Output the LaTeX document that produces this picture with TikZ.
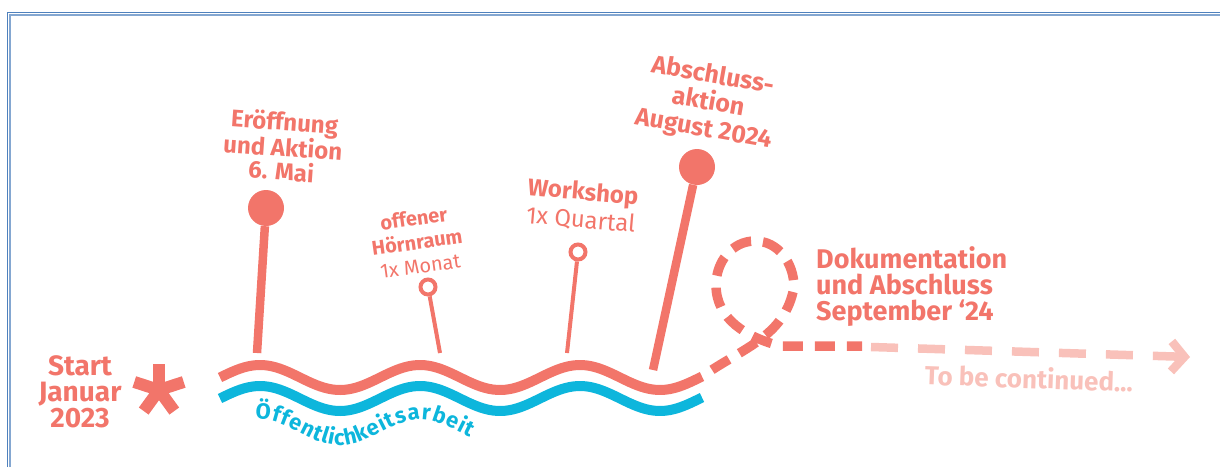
\documentclass[tikz,border=0pt]{standalone}
\usepackage{fontspec}
\setmainfont{Fira Sans}
\usetikzlibrary{arrows.meta,decorations.text,positioning}
\definecolor{lachs}{HTML}{F2756A}
\definecolor{rosa}{HTML}{F9C1BA}
\definecolor{tuerkis}{HTML}{0DB6DC}
\definecolor{rahmen}{HTML}{4F81BD}

\begin{document}
\begin{tikzpicture}[
x=1pt,y=1pt,
>=Straight Barb,
big head/.style={
	fill=lachs,
	circle,
	minimum size=36pt,
	inner sep=0pt
},
small head/.style={
	draw=lachs,
	fill=white,
	circle,
	line width=4pt,
	minimum size=15pt,
	inner sep=0pt
},
stem/.style={
	draw=lachs,
	line width=8.5pt
},
thin stem/.style={
	draw=lachs,
	line width=4pt
},
caption/.style={
	text=lachs,
	font=\bfseries\fontsize{24}{24}\selectfont,
	align=center,
	inner sep=0pt
},
wave/.style={
	line width=10pt
},
loop line/.style={
	draw=lachs,
	line width=9.5pt,
	dash pattern=on 20pt off 12pt
}
]
\useasboundingbox (0,0) rectangle (1220,467);

\draw[rahmen, line width=1.3pt] (7.3,0) -- (7.3,454.7) -- (1220,454.7);
\draw[rahmen!70, line width=1.3pt] (10,0) -- (10,452) -- (1220,452);

\node[caption, font=\bfseries\fontsize{28}{26}\selectfont] (start) at (80,75) {Start\\Januar\\2023};
\coordinate (stern) at (159,77);
\foreach \w in {18,90,162,234,306}
\draw[lachs, line width=12pt] (stern) -- ++(\w:26);

\foreach \farbe/\mitte in {lachs/89.5, tuerkis/68.5}
\draw[\farbe, wave] plot[domain=220:702, samples=121] (\x, {\mitte+12.5*sin((\x-220)*2.25)});
\coordinate (wellenende) at (702,90.5);

\path[decorate, decoration={text along path,
	text={|\bfseries\fontsize{22}{22}\selectfont|Öffentlichkeitsarbeit},
	text color=tuerkis, text align={fit to path}}]
	plot[domain=255:470, samples=60] (\x, {34.5+13*sin((\x-220)*2.25)});

\node[big head] (eroeffnung) at (266,259) {};
\coordinate (eroeffnung fuss) at (257,114);
\draw[stem] (eroeffnung) -- (eroeffnung fuss);
\node[caption, rotate=-4] (eroeffnung text) at (283,321) {Eröffnung\\und Aktion\\6. Mai};

\node[small head] (hoerraum) at (428,180) {};
\coordinate (hoerraum fuss) at (440,114);
\draw[thin stem] (hoerraum) -- (hoerraum fuss);
\node[caption, rotate=8, font=\bfseries\fontsize{20}{24}\selectfont] (hoerraum text) at (417,225) {offener\\Hörnraum\\{\mdseries 1x Monat}};

\node[small head] (workshop) at (578,215) {};
\coordinate (workshop fuss) at (567,114);
\draw[thin stem] (workshop) -- (workshop fuss);
\node[caption, rotate=-5, font=\bfseries\fontsize{24}{28}\selectfont] (workshop text) at (582,261) {Workshop\\{\mdseries 1x Quartal}};

\node[big head] (abschluss) at (697,300) {};
\coordinate (abschluss fuss) at (653,97);
\draw[stem] (abschluss) -- (abschluss fuss);
\node[caption, rotate=-10, font=\bfseries\fontsize{25}{27}\selectfont] (abschluss text) at (708,364) {Abschluss-\\aktion\\August 2024};

\coordinate (schleife ende) at (862,121);
\draw[loop line, dash phase=20pt] (wellenende) to[out=35,in=-100] (794,180) to[out=90,in=0] (755,226)
	to[out=180,in=90] (716,182) to[out=-90,in=165] (780,121) -- (schleife ende);
\node[caption, align=left, anchor=west, font=\bfseries\fontsize{27}{26}\selectfont] (doku text) at (816,180) {Dokumentation\\und Abschluss\\September `24};

\coordinate (weiter anfang) at (871,120);
\coordinate (weiter ende) at (1190,110);
\draw[loop line, draw=rosa, line width=8.5pt, dash pattern=on 27pt off 20pt,
	-{Straight Barb[length=13pt, width=30pt]}] (weiter anfang) -- (weiter ende);
\node[text=rosa, font=\bfseries\fontsize{26}{26}\selectfont, rotate=-2, inner sep=0pt] (weiter text) at (1029,89) {To be continued...};
\end{tikzpicture}
\end{document}
